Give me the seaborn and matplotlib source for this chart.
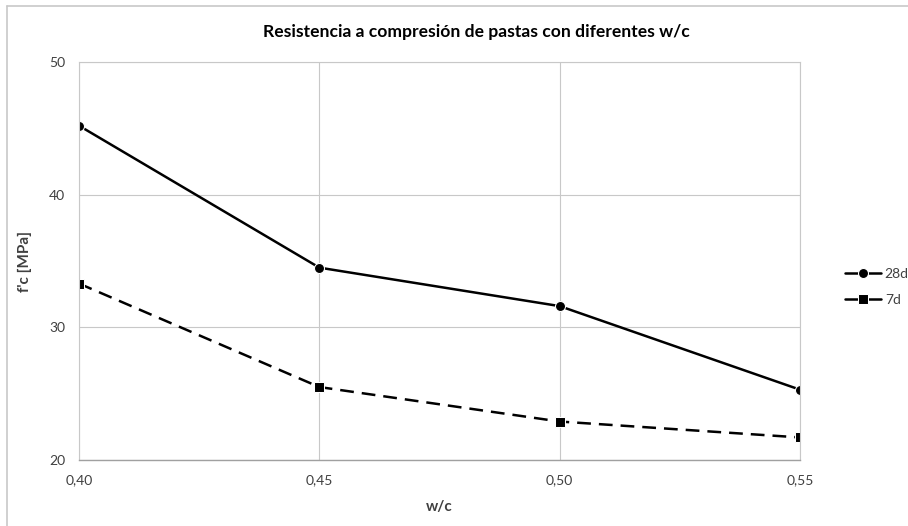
import matplotlib
matplotlib.use("Agg")
import matplotlib.pyplot as plt
import seaborn as sns
import pandas as pd
from matplotlib.lines import Line2D
from matplotlib.ticker import FuncFormatter

wc = [0.40, 0.45, 0.50, 0.55]
f28 = [45.2, 34.5, 31.6, 25.3]
f7 = [33.3, 25.5, 22.9, 21.7]
series = ["28d", "7d"]
xticks = [0.40, 0.45, 0.50, 0.55]
yticks = [20, 30, 40, 50]

df = pd.DataFrame({
    "w/c": wc + wc,
    "fc": f28 + f7,
    "Edad": [series[0]] * len(wc) + [series[1]] * len(wc),
})

sns.set_theme(style="white")
plt.rcParams["font.family"] = ["Lato", "DejaVu Sans"]

fig = plt.figure(figsize=(9.08, 5.26), dpi=100)
ax = fig.add_axes([79 / 908, 1 - 460 / 526, (800 - 79) / 908, (460 - 62) / 526])

sns.lineplot(
    data=df, x="w/c", y="fc", hue="Edad", style="Edad",
    palette={"28d": "black", "7d": "black"},
    markers={"28d": "o", "7d": "s"},
    dashes={"28d": "", "7d": (5.5, 3.2)},
    linewidth=1.8, markersize=7.2, ax=ax, legend=True,
)

ax.set_xlim(0.40, 0.55)
ax.set_ylim(20, 50)
ax.set_xticks(xticks)
ax.set_yticks(yticks)
ax.xaxis.set_major_formatter(FuncFormatter(lambda v, p: f"{v:.2f}".replace(".", ",")))
ax.grid(True, color="#c8c8c8", linewidth=0.8)
for s in ["top", "right", "left"]:
    ax.spines[s].set_color("#c8c8c8")
    ax.spines[s].set_linewidth(0.8)
ax.spines["bottom"].set_color("#a0a0a0")
ax.spines["bottom"].set_linewidth(1.0)
ax.tick_params(axis="both", length=0, labelsize=10, labelcolor="#404040")
ax.tick_params(axis="x", pad=10)
ax.tick_params(axis="y", pad=10)

ax.set_xlabel("w/c", fontsize=11, fontweight="bold", color="#404040", labelpad=10)
ax.set_ylabel("f'c [MPa]", fontsize=11, fontweight="bold", color="#404040", labelpad=12)
fig.text(476 / 908, 1 - 32 / 526, "Resistencia a compresión de pastas con diferentes w/c",
         ha="center", va="center", fontsize=12.6, fontweight="bold", color="black")

handles, labels = ax.get_legend_handles_labels()
leg = ax.legend(handles, labels, loc="center left", bbox_to_anchor=(832 / 908, 1 - 287 / 526),
                bbox_transform=fig.transFigure, frameon=False, fontsize=10,
                handlelength=2.6, handletextpad=0.3, labelspacing=1.0)
for t in leg.get_texts():
    t.set_color("#404040")
for h in leg.get_lines():
    h.set_linestyle("-")

fig.add_artist(Line2D([7 / 908, 7 / 908], [0, 1 - 6 / 526], transform=fig.transFigure,
                      color="#c8c8c8", linewidth=1.2))
fig.add_artist(Line2D([7 / 908, 1], [1 - 6 / 526, 1 - 6 / 526], transform=fig.transFigure,
                      color="#c8c8c8", linewidth=1.2))

fig.savefig("out.png", dpi=100)
